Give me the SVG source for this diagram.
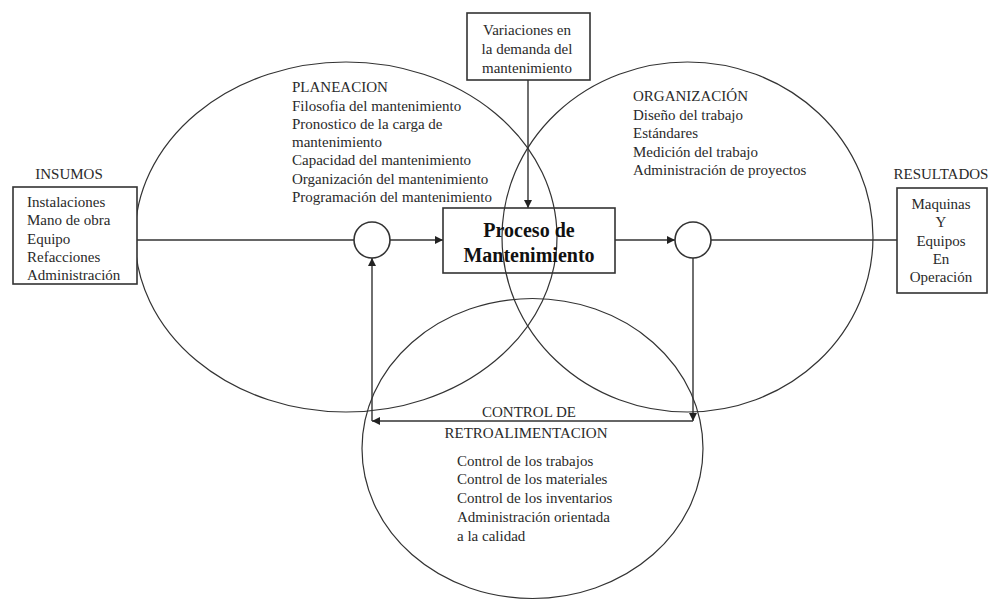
<svg xmlns="http://www.w3.org/2000/svg" width="997" height="603" viewBox="0 0 997 603" font-family="'Liberation Serif', Tinos, 'Times New Roman', 'DejaVu Serif', serif">
<defs>
<style>
text{font-family:'Liberation Serif', Tinos, 'Times New Roman', 'DejaVu Serif', serif}
.t{font-size:15px;fill:#2a2a2a}
.c{text-anchor:middle}
.b{font-weight:bold;font-size:20px;fill:#111}
.ln{fill:none;stroke:#333;stroke-width:1.4}
.bx{fill:#fff;stroke:#333;stroke-width:1.6}
.ring{fill:none;stroke:#333;stroke-width:1.2}
</style>
<marker id="ah" viewBox="0 0 10 10" refX="10" refY="5" markerWidth="9" markerHeight="8" markerUnits="userSpaceOnUse" orient="auto">
<path d="M0,0 L10,5 L0,10 z" fill="#222"/>
</marker>
</defs>
<rect width="997" height="603" fill="#fff"/>

<g id="planeacion">
<ellipse class="ring" cx="346" cy="237" rx="211" ry="175"/>
<text class="t" x="292" y="92">PLANEACION</text>
<text class="t" x="292" y="111">Filosofia del mantenimiento</text>
<text class="t" x="292" y="129">Pronostico de la carga de</text>
<text class="t" x="292" y="147">mantenimiento</text>
<text class="t" x="292" y="165">Capacidad del mantenimiento</text>
<text class="t" x="292" y="184">Organización del mantenimiento</text>
<text class="t" x="292" y="202">Programación del mantenimiento</text>
</g>

<g id="organizacion">
<ellipse class="ring" cx="687.5" cy="237" rx="185.5" ry="175"/>
<text class="t" x="633" y="101">ORGANIZACIÓN</text>
<text class="t" x="633" y="120">Diseño del trabajo</text>
<text class="t" x="633" y="138">Estándares</text>
<text class="t" x="633" y="157">Medición del trabajo</text>
<text class="t" x="633" y="175">Administración de proyectos</text>
</g>

<g id="control">
<ellipse class="ring" cx="532.5" cy="448.5" rx="170.5" ry="150"/>
<text class="t c" x="529" y="417">CONTROL DE</text>
<text class="t c" x="526" y="438">RETROALIMENTACION</text>
<text class="t" x="457" y="466">Control de los trabajos</text>
<text class="t" x="457" y="484">Control de los materiales</text>
<text class="t" x="457" y="503">Control de los inventarios</text>
<text class="t" x="457" y="522">Administración orientada</text>
<text class="t" x="457" y="541">a la calidad</text>
</g>

<g id="connectors">
<line class="ln" x1="137" y1="240" x2="354" y2="240"/>
<line class="ln" x1="390" y1="240" x2="443" y2="240" marker-end="url(#ah)"/>
<line class="ln" x1="528" y1="80" x2="528" y2="208" marker-end="url(#ah)"/>
<line class="ln" x1="615" y1="240" x2="675" y2="240" marker-end="url(#ah)"/>
<line class="ln" x1="711" y1="240" x2="897" y2="240"/>
<line class="ln" x1="693" y1="258" x2="693" y2="421" marker-end="url(#ah)"/>
<line class="ln" x1="693" y1="421" x2="372" y2="421" marker-end="url(#ah)"/>
<line class="ln" x1="372" y1="421" x2="372" y2="258" marker-end="url(#ah)"/>
</g>

<g id="sum-left">
<circle class="bx" cx="372" cy="240" r="18"/>
</g>
<g id="sum-right">
<circle class="bx" cx="693" cy="240" r="18"/>
</g>

<g id="insumos">
<text class="t c" x="69" y="179">INSUMOS</text>
<rect class="bx" x="13" y="187" width="124" height="97"/>
<text class="t" x="27" y="207">Instalaciones</text>
<text class="t" x="27" y="225">Mano de obra</text>
<text class="t" x="27" y="244">Equipo</text>
<text class="t" x="27" y="262">Refacciones</text>
<text class="t" x="27" y="280">Administración</text>
</g>

<g id="resultados">
<text class="t c" x="941" y="179">RESULTADOS</text>
<rect class="bx" x="897" y="188" width="90" height="105"/>
<text class="t c" x="941" y="209">Maquinas</text>
<text class="t c" x="941" y="227">Y</text>
<text class="t c" x="941" y="246">Equipos</text>
<text class="t c" x="941" y="264">En</text>
<text class="t c" x="941" y="282">Operación</text>
</g>

<g id="variaciones">
<rect class="bx" x="467" y="13" width="123" height="67"/>
<text class="t c" x="527" y="35">Variaciones en</text>
<text class="t c" x="527" y="54">la demanda del</text>
<text class="t c" x="527" y="73">mantenimiento</text>
</g>

<g id="proceso">
<rect class="bx" x="443" y="208" width="172" height="65" fill-opacity="0"/>
<text class="t c b" x="529" y="237">Proceso de</text>
<text class="t c b" x="529" y="262">Mantenimiento</text>
</g>
</svg>
